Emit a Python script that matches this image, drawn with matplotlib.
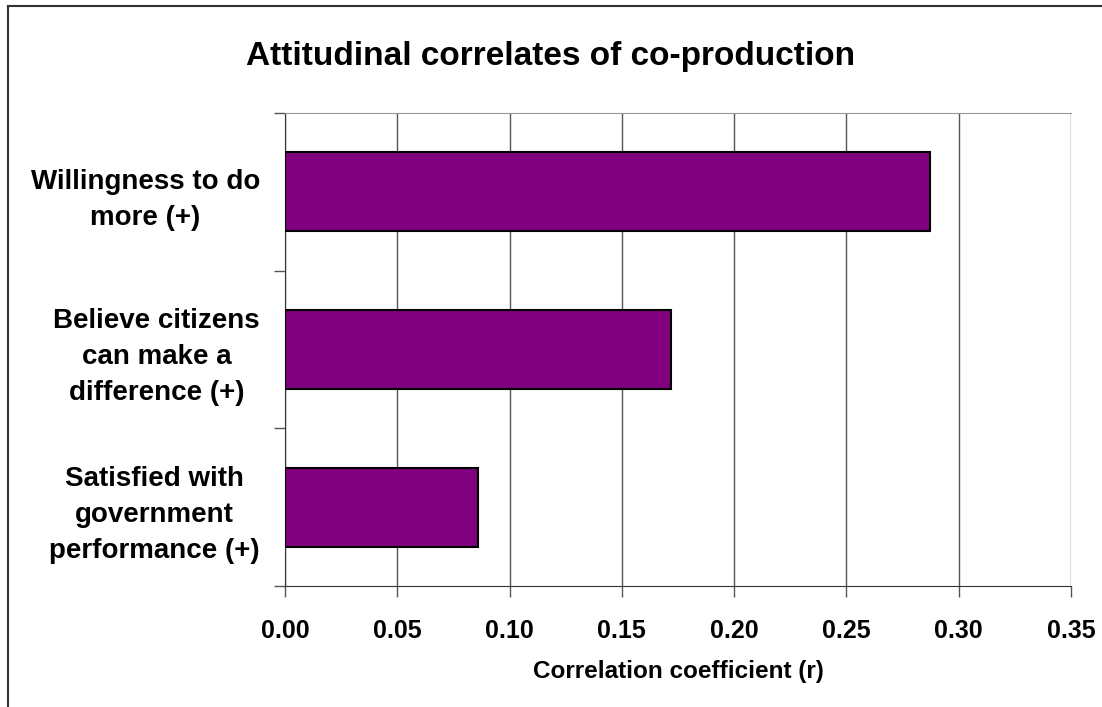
import matplotlib
matplotlib.use("Agg")
from matplotlib import pyplot as plt
from matplotlib.lines import Line2D

# Data
categories = [
    "Willingness to do\nmore (+)",
    "Believe citizens\ncan make a\ndifference (+)",
    "Satisfied with\ngovernment\nperformance (+)",
]
values = [0.287, 0.172, 0.086]
x_ticks = [0.00, 0.05, 0.10, 0.15, 0.20, 0.25, 0.30, 0.35]

bar_colour = '#800080'
grid_colour = '#555555'

plt.rcParams['font.family'] = ['Liberation Sans', 'DejaVu Sans']

fig = plt.figure(figsize=(11.02, 7.07), dpi=100)
ax = fig.add_axes([285 / 1102, 1 - 586 / 707, (1071 - 285) / 1102, (586 - 113) / 707])

n = len(categories)
centers = [n - 0.5 - i for i in range(n)]
ax.barh(centers, values, height=0.5, color=bar_colour, edgecolor='black', linewidth=1.5, zorder=3)

ax.set_xlim(0, 0.35)
ax.set_ylim(0, n)
ax.set_xticks(x_ticks)
ax.set_xticklabels([f"{t:.2f}" for t in x_ticks], fontsize=18, fontweight='bold')
ax.xaxis.grid(True, color=grid_colour, linewidth=1, zorder=0)

# category boundaries get tick marks, labels sit at the centres
ax.set_yticks(range(n + 1))
ax.set_yticklabels([])
ax.set_yticks(centers, minor=True)
ax.set_yticklabels(categories, minor=True, fontsize=20, fontweight='bold',
                   multialignment='center', linespacing=1.5)
ax.tick_params(axis='y', which='minor', length=0, pad=18)
ax.tick_params(axis='y', which='major', length=8, width=1, color=grid_colour, direction='out')
ax.tick_params(axis='x', length=8, width=1, color=grid_colour, direction='out', pad=16)

ax.spines['left'].set_color('#333333')
ax.spines['bottom'].set_color('#333333')
ax.spines['top'].set_color('#999999')
ax.spines['right'].set_visible(False)

ax.set_xlabel("Correlation coefficient (r)", fontsize=17.5, fontweight='bold', labelpad=12)

fig.text(0.5, 0.920, "Attitudinal correlates of co-production", ha='center', va='center',
         fontsize=24, fontweight='bold')

# figure frame (left and top edges visible)
fig.add_artist(Line2D([8 / 1102, 8 / 1102], [0, 1 - 6 / 707], transform=fig.transFigure, color='#333333', linewidth=1.5))
fig.add_artist(Line2D([8 / 1102, 1], [1 - 6 / 707, 1 - 6 / 707], transform=fig.transFigure, color='#333333', linewidth=1.5))

fig.savefig("out.png", dpi=100)
